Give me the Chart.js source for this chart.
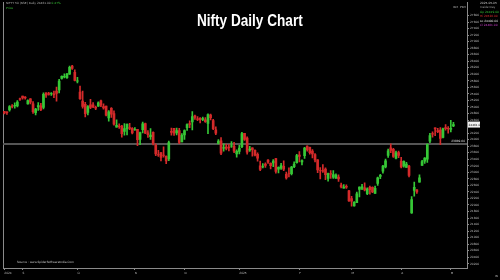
<!DOCTYPE html>
<html>
<head>
<meta charset="utf-8">
<script src="https://cdn.jsdelivr.net/npm/chart.js@4"></script>
<style>
  html, body { margin: 0; padding: 0; background: #000; }
  #wrap { position: relative; width: 500px; height: 280px; background: #000; overflow: hidden; }
  #title { position: absolute; left: 0; top: 11px; width: 500px; text-align: center; color: #fff;
           font: bold 17px "Liberation Sans", sans-serif; transform: scaleX(0.8); transform-origin: 249px 0; }
</style>
</head>
<body>
<div id="wrap">
  <canvas id="niftyChart" width="500" height="280"></canvas>
  <div id="title">Nifty Daily Chart</div>
</div>
<script>
// NIFTY 50 daily candles, Aug 2024 - May 2025
const dates = [
  '2024-08-22','2024-08-23','2024-08-26','2024-08-27','2024-08-28','2024-08-29','2024-08-30',
  '2024-09-02','2024-09-03','2024-09-04','2024-09-05','2024-09-06','2024-09-09','2024-09-10','2024-09-11','2024-09-12','2024-09-13','2024-09-16','2024-09-17','2024-09-18','2024-09-19','2024-09-20','2024-09-23','2024-09-24','2024-09-25','2024-09-26','2024-09-27','2024-09-30',
  '2024-10-01','2024-10-03','2024-10-04','2024-10-07','2024-10-08','2024-10-09','2024-10-10','2024-10-11','2024-10-14','2024-10-15','2024-10-16','2024-10-17','2024-10-18','2024-10-21','2024-10-22','2024-10-23','2024-10-24','2024-10-25','2024-10-28','2024-10-29','2024-10-30','2024-10-31',
  '2024-11-01','2024-11-04','2024-11-05','2024-11-06','2024-11-07','2024-11-08','2024-11-11','2024-11-12','2024-11-13','2024-11-14','2024-11-18','2024-11-19','2024-11-21','2024-11-22','2024-11-25','2024-11-26','2024-11-27','2024-11-28','2024-11-29',
  '2024-12-02','2024-12-03','2024-12-04','2024-12-05','2024-12-06','2024-12-09','2024-12-10','2024-12-11','2024-12-12','2024-12-13','2024-12-16','2024-12-17','2024-12-18','2024-12-19','2024-12-20','2024-12-23','2024-12-24','2024-12-26','2024-12-27','2024-12-30','2024-12-31',
  '2025-01-01','2025-01-02','2025-01-03','2025-01-06','2025-01-07','2025-01-08','2025-01-09','2025-01-10','2025-01-13','2025-01-14','2025-01-15','2025-01-16','2025-01-17','2025-01-20','2025-01-21','2025-01-22','2025-01-23','2025-01-24','2025-01-27','2025-01-28','2025-01-29','2025-01-30','2025-01-31',
  '2025-02-01','2025-02-03','2025-02-04','2025-02-05','2025-02-06','2025-02-07','2025-02-10','2025-02-11','2025-02-12','2025-02-13','2025-02-14','2025-02-17','2025-02-18','2025-02-19','2025-02-20','2025-02-21','2025-02-24','2025-02-25','2025-02-27','2025-02-28',
  '2025-03-03','2025-03-04','2025-03-05','2025-03-06','2025-03-07','2025-03-10','2025-03-11','2025-03-12','2025-03-13','2025-03-17','2025-03-18','2025-03-19','2025-03-20','2025-03-21','2025-03-24','2025-03-25','2025-03-26','2025-03-27','2025-03-28',
  '2025-04-01','2025-04-02','2025-04-03','2025-04-04','2025-04-07','2025-04-08','2025-04-09','2025-04-11','2025-04-15','2025-04-16','2025-04-17','2025-04-21','2025-04-22','2025-04-23','2025-04-24','2025-04-25','2025-04-28','2025-04-29','2025-04-30',
  '2025-05-02','2025-05-05'
];

const opens = [
  24864,24845,24906,25024,25030,25035,25249,
  25333,25300,25089,25250,25093,24823,24999,25035,24986,25430,25406,25416,25402,25487,25525,25872,25921,25899,26005,26248,26061,
  25788,25452,25181,25084,24832,25066,25067,24985,25024,25186,25008,25028,24664,24956,24798,24378,24412,24418,24252,24328,24371,24349,
  24302,24315,24003,24308,24489,24207,24087,24225,23822,23542,23605,23529,23488,23411,24254,24343,24205,24274,23927,
  24140,24367,24489,24539,24729,24633,24652,24620,24604,24499,24753,24584,24298,23877,23960,23739,23770,23775,23802,23796,23560,
  23637,23783,24196,24045,23679,23746,23674,23551,23195,23165,23250,23377,23277,23290,23421,23099,23128,23183,22940,22960,22960,23169,23296,
  23528,23319,23509,23802,23761,23649,23543,23384,23050,23055,23097,22810,22963,22847,22821,22857,22610,22516,22568,22433,
  22194,21974,22073,22476,22508,22521,22345,22536,22541,22354,22662,22874,23036,23168,23515,23751,23700,23433,23600,
  23342,23193,23150,23190,21758,22446,22460,22695,23208,23344,23402,23949,24185,24357,24277,24289,24070,24370,24342,
  24311,24419
];

const highs = [
  24867,24858,25043,25074,25129,25192,25268,
  25333,25321,25216,25260,25168,24957,25130,25113,25433,25430,25445,25441,25482,25611,25849,25956,26011,26032,26250,26277,26134,
  25907,25639,25485,25143,25044,25234,25134,25028,25159,25213,25093,25029,24886,24978,24882,24604,24480,24440,24493,24484,24499,24372,
  24368,24316,24229,24537,24503,24276,24336,24242,23873,23675,23606,23780,23507,23956,24351,24343,24354,24345,24188,
  24301,24482,24573,24857,24751,24705,24677,24691,24675,24792,24781,24624,24394,24004,24065,23869,23867,23854,23939,23915,23690,
  23822,24226,24196,24089,23795,23751,23689,23596,23340,23264,23293,23391,23292,23391,23426,23170,23271,23347,23007,23137,23183,23322,23546,
  23632,23381,23762,23807,23773,23694,23569,23390,23144,23235,23133,22974,23049,23050,22951,22921,22668,22625,22613,22450,
  22262,22106,22394,22556,22633,22676,22522,22577,22558,22577,22857,22940,23216,23403,23708,23869,23736,23646,23649,
  23459,23350,23306,23214,22254,22698,22468,22924,23368,23452,23873,24189,24242,24359,24347,24365,24355,24457,24396,
  24589,24526
];

const lows = [
  24784,24771,24874,24973,24964,24998,25199,
  25235,25235,25083,25093,24801,24753,24896,24885,24941,25292,25361,25352,25285,25175,25426,25847,25886,25871,25998,26151,25794,
  25739,25230,24966,24694,24756,24947,24979,24920,25017,25008,24929,24728,24567,24679,24445,24378,24341,24073,24135,24141,24307,24172,
  24280,23816,23842,24204,24179,24066,24004,23839,23509,23484,23350,23464,23263,23359,24135,24126,24145,23873,23927,
  24008,24280,24366,24295,24620,24580,24511,24583,24527,24180,24601,24303,24149,23870,23537,23647,23685,23653,23761,23599,23460,
  23562,23751,23976,23551,23637,23496,23503,23344,23047,23134,23146,23272,23100,23170,22976,22981,23090,23050,22786,22857,22923,23139,23277,
  23318,23222,23423,23647,23556,23443,23316,22986,22798,22993,22775,22726,22815,22814,22811,22720,22518,22513,22508,22105,
  21965,21964,22068,22245,22464,22429,22315,22330,22378,22354,22599,22807,22973,23132,23452,23601,23452,23412,23450,
  23137,23158,23146,22858,21743,22270,22353,22695,23207,23273,23299,23903,24073,24119,24216,23848,24054,24290,24199,
  24238,24400
];

const closes = [
  24811,24823,25010,25017,25052,25151,25236,
  25279,25279,25198,25145,24852,24936,25041,24918,25389,25357,25383,25419,25377,25416,25791,25939,25940,26004,26216,26179,25811,
  25797,25250,25015,24796,25013,24982,24998,24964,25128,25057,24971,24750,24854,24781,24472,24436,24399,24181,24339,24467,24341,24205,
  24304,23995,24213,24484,24199,24148,24141,23883,23559,23532,23453,23518,23349,23907,24221,24194,24274,23914,24131,
  24276,24457,24467,24708,24677,24619,24610,24641,24548,24768,24668,24336,24199,23952,23588,23753,23728,23750,23813,23645,23645,
  23743,24188,24005,23616,23708,23689,23527,23432,23086,23176,23213,23312,23203,23345,23025,23155,23206,23092,22829,22957,23163,23250,23508,
  23482,23361,23739,23696,23603,23560,23381,23072,23046,23031,22929,22960,22945,22933,22913,22796,22553,22547,22545,22125,
  22119,22083,22337,22545,22553,22460,22497,22470,22397,22509,22834,22907,23191,23350,23658,23668,23487,23592,23519,
  23165,23332,23250,22904,22162,22536,22399,22829,23329,23437,23852,24125,24167,24329,24247,24039,24328,24336,24334,
  24347,24461
];

// horizontal level drawn across the chart (March swing high)
const levelValue = 23869.60;

// month initials for the date axis, January gets the year
const monthInitials = ['J','F','M','A','M','J','J','A','S','O','N','D'];

const upColor = '#36c736';
const downColor = '#d42a2a';
const axisColor = '#8a8a8a';
const textColor = '#bdbdbd';
const tinySize = 2.9;
const tinyFont = { size: tinySize, family: 'DejaVu Sans' };
const tinyCss = tinySize + 'px "DejaVu Sans"';

// --- derived stuff ---
const last = closes.length - 1;
const candleColors = closes.map((c, i) => c >= opens[i] ? upColor : downColor);
const wickData = dates.map((d, i) => ({ x: i, y: [lows[i], highs[i]] }));
const bodyData = dates.map((d, i) => ({ x: i, y: [opens[i], closes[i]] }));

const tickIdx = [];
const tickText = [];
dates.forEach((d, i) => {
    const m = d.slice(5, 7);
    if (i === 0) {
        tickIdx.push(i);
        tickText.push(d.slice(0, 4));
    } else if (m !== dates[i - 1].slice(5, 7)) {
        tickIdx.push(i);
        tickText.push(m === '01' ? d.slice(0, 4) : monthInitials[parseInt(m, 10) - 1]);
    }
});

const pctChange = ((closes[last] - closes[last - 1]) / closes[last - 1] * 100).toFixed(2);

const overlayPlugin = {
    id: 'overlay',
    beforeDatasetsDraw(chart) {
        const { ctx, chartArea, scales } = chart;
        const y = Math.round(scales.y.getPixelForValue(levelValue));
        ctx.save();
        ctx.strokeStyle = '#555555';
        ctx.lineWidth = 2;
        ctx.beginPath();
        ctx.moveTo(chartArea.left, y);
        ctx.lineTo(chartArea.right, y);
        ctx.stroke();
        ctx.restore();
    },
    afterDraw(chart) {
        const { ctx, chartArea, scales } = chart;
        ctx.save();
        ctx.textBaseline = 'alphabetic';
        ctx.font = tinyCss;

        // level value label
        const yl = scales.y.getPixelForValue(levelValue);
        ctx.fillStyle = '#e0e0e0';
        ctx.textAlign = 'right';
        ctx.fillText(levelValue.toFixed(2), chartArea.right - 2, yl - 2);

        // last price marker on the axis
        const yc = scales.y.getPixelForValue(closes[last]);
        ctx.fillStyle = '#f2f2f2';
        ctx.fillRect(chartArea.right + 1, yc - 3, 12, 6);
        ctx.fillStyle = '#000';
        ctx.textAlign = 'left';
        ctx.fillText(closes[last].toFixed(2), chartArea.right + 1.5, yc + 1);

        // header over the axis
        ctx.fillStyle = textColor;
        ctx.textAlign = 'right';
        ctx.fillText('IDX  PDX', chartArea.right - 1, 8);

        // top-left caption
        ctx.textAlign = 'left';
        const cap = 'NIFTY 50 (NSE) Daily ' + closes[last].toFixed(2) + ' ';
        ctx.fillStyle = '#b0b0b0';
        ctx.fillText(cap, chartArea.left + 3, 4);
        ctx.fillStyle = upColor;
        ctx.fillText(pctChange + '%', chartArea.left + 3 + ctx.measureText(cap).width, 4);
        ctx.fillText('Price', chartArea.left + 3, 8.5);

        // OHLC info box, top right
        const bx = chartArea.right + 13;
        ctx.fillStyle = '#d0d0d0';
        ctx.fillText(dates[last], bx, 3.5);
        ctx.fillStyle = '#a0a0a0';
        ctx.fillText('Inside Day', bx, 8);
        ctx.fillStyle = upColor;
        ctx.fillText('Op ' + opens[last].toFixed(2), bx, 12.5);
        ctx.fillStyle = '#e03030';
        ctx.fillText('Hi ' + highs[last].toFixed(2), bx, 17);
        ctx.fillStyle = '#e8e8e8';
        ctx.fillText('Lo ' + lows[last].toFixed(2), bx, 21.5);
        ctx.fillStyle = '#d040d0';
        ctx.fillText('Cl ' + closes[last].toFixed(2), bx, 26);

        // source note
        ctx.fillStyle = '#d0d0d0';
        ctx.fillText('Source : www.SpiderSoftwareIndia.Com', chartArea.left + 14, chartArea.bottom - 5);

        ctx.fillStyle = textColor;
        ctx.textAlign = 'right';
        ctx.fillText('IN', chart.width - 2, chart.height - 3);
        ctx.restore();
    }
};

const ctx = document.getElementById('niftyChart');
const chart = new Chart(ctx, {
    type: 'bar',
    data: {
        datasets: [
            {
                label: 'wick',
                data: wickData,
                backgroundColor: candleColors,
                barThickness: 1,
                grouped: false,
                order: 2
            },
            {
                label: 'body',
                data: bodyData,
                backgroundColor: candleColors,
                barThickness: 2,
                grouped: false,
                order: 1
            }
        ]
    },
    options: {
        responsive: false,
        animation: false,
        layout: { padding: { left: 3, top: 1, right: 0, bottom: 0 } },
        plugins: {
            legend: { display: false },
            tooltip: { enabled: false },
            title: { display: false }
        },
        scales: {
            x: {
                type: 'linear',
                offset: false,
                min: -0.5,
                max: 177.2,
                afterBuildTicks: (scale) => {
                    scale.ticks = tickIdx.map(v => ({ value: v }));
                },
                afterFit: (scale) => { scale.height = 12; },
                ticks: {
                    autoSkip: false,
                    maxRotation: 0,
                    align: 'start',
                    padding: 2,
                    color: textColor,
                    font: tinyFont,
                    callback: (value) => tickText[tickIdx.indexOf(value)]
                },
                grid: { display: true, drawOnChartArea: false, tickLength: 2, color: axisColor, offset: false },
                border: { display: true, color: axisColor }
            },
            y: {
                type: 'linear',
                position: 'right',
                min: 20070,
                max: 28190,
                afterBuildTicks: (scale) => {
                    scale.ticks = scale.ticks.filter(t => t.value <= 27800);
                },
                afterFit: (scale) => { scale.width = 33; },
                ticks: {
                    stepSize: 200,
                    includeBounds: false,
                    autoSkip: false,
                    padding: 1,
                    color: textColor,
                    font: tinyFont,
                    callback: (v) => String(v)
                },
                grid: { display: true, drawOnChartArea: false, tickLength: 2, color: axisColor },
                border: { display: true, color: axisColor }
            },
            yl: {
                type: 'linear',
                position: 'left',
                afterFit: (scale) => { scale.width = 0; },
                ticks: { display: false },
                grid: { display: false },
                border: { display: true, color: axisColor }
            }
        }
    },
    plugins: [overlayPlugin]
});
</script>
</body>
</html>
